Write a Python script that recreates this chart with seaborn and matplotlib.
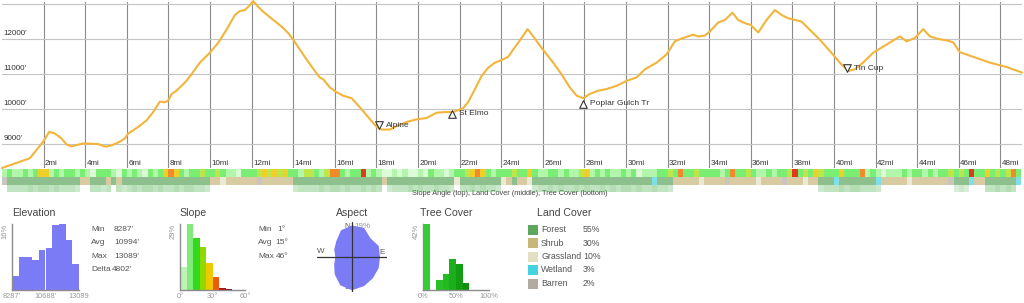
import numpy as np
import pandas as pd
import matplotlib
matplotlib.use("Agg")
import matplotlib.pyplot as plt
import seaborn as sns

# ---------------- data ----------------
dist_mi = [0.0, 1.34, 1.98, 2.27, 2.54, 2.86, 3.10, 3.34, 3.90, 4.62, 4.99, 5.27, 5.67, 5.91,
           6.07, 6.55, 6.95, 7.27, 7.59, 7.83, 7.99, 8.15, 8.39, 8.63, 8.87, 9.11, 9.51, 9.99,
           10.39, 10.79, 11.20, 11.44, 11.68, 11.92, 12.08, 12.24, 12.56, 13.04, 13.44, 13.76,
           14.00, 14.32, 14.64, 15.04, 15.28, 15.44, 15.76, 16.09, 16.40, 16.81, 17.20, 17.60,
           18.01, 18.25, 18.65, 18.89, 19.45, 19.93, 20.41, 20.89, 21.29, 21.69, 22.17, 22.41,
           22.74, 23.06, 23.38, 23.70, 24.02, 24.34, 24.58, 24.98, 25.27, 25.54, 25.94, 26.50,
           26.90, 27.30, 27.63, 27.94, 28.26, 28.66, 29.07, 29.55, 30.03, 30.51, 30.91, 31.47,
           31.95, 32.35, 32.70, 33.23, 33.47, 33.79, 34.03, 34.43, 34.76, 35.12, 35.39, 35.72,
           35.99, 36.36, 36.76, 37.16, 37.48, 37.80, 38.12, 38.44, 38.76, 39.32, 39.88, 40.28,
           40.68, 41.00, 41.40, 41.88, 42.53, 43.17, 43.49, 43.89, 44.29, 44.61, 45.01, 45.41,
           45.73, 46.05, 46.69, 47.50, 48.30, 49.04]
elev_ft = [8300, 8580, 9054, 9337, 9289, 9147, 8977, 8920, 9005, 8986, 8912, 8950, 9054, 9150,
           9289, 9479, 9667, 9904, 10204, 10185, 10232, 10422, 10516, 10657, 10799, 10989, 11320, 11603,
           11887, 12263, 12688, 12802, 12830, 12972, 13089, 12970, 12782, 12547, 12357, 12170,
           11980, 11697, 11414, 11082, 10895, 10847, 10612, 10470, 10374, 10300, 10045, 9762,
           9479, 9402, 9402, 9479, 9620, 9694, 9734, 9884, 9904, 9904, 10017, 10187,
           10564, 10940, 11178, 11320, 11394, 11490, 11697, 12028, 12283, 12074, 11745, 11320,
           10989, 10612, 10374, 10300, 10422, 10516, 10564, 10657, 10799, 10895, 11130, 11320,
           11555, 11932, 12020, 12122, 12074, 12094, 12215, 12471, 12547, 12754, 12547, 12452,
           12405, 12187, 12547, 12830, 12688, 12594, 12547, 12499, 12311, 11980, 11603, 11320,
           11082, 11130, 11320, 11603, 11839, 12074, 11932, 12028, 12283, 12074, 12000, 11961,
           11904, 11620, 11490, 11320, 11196, 11037]

waypoint_names = ["Alpine", "St Elmo", "Poplar Gulch Tr", "Tin Cup"]
waypoint_mi = [18.13, 21.64, 27.94, 40.65]
waypoint_ft = [9520, 9850, 10140, 11160]
waypoint_marker = ["v", "^", "^", "v"]

elev_ticks = [9000, 10000, 11000, 12000, 13000]
elev_tick_labels = ["9000'", "10000'", "11000'", "12000'", "13000'"]
dist_ticks = list(range(2, 49, 2))
dist_tick_labels = [f"{d}mi" for d in dist_ticks]

strip_step_mi = 0.25
slope_classes = ("1211 2124 4121 2212 1022 2102 1210 2124 5421 2232 2321 1022 2343 4342 2133 "
                 "2135 5212 2612 1001 0100 1021 1012 2345 4212 2232 2421 1221 2113 4121 2112 "
                 "1201 1122 3252 2322 2212 5223 2112 1223 6232 4322 2422 2512 1011 1212 2121 "
                 "2232 3262 2423 2352")
landcover_codes = ("BFFF FFFF FFFF FFFS SFFF SFSF FFFF FFFF FFFF FFFF SSGS SSSS SBSS SSSS FFFF "
                   "FFFF FFFF FFFF FSFF FFFF FFFF FFFG FFFF FFFF GSFS SGFF FFFF FFFF FFFF FFFF "
                   "FFFF FWFF FSSS SSGS SSSB SSSS SGSS SSBS SSGS SFFF WFFF FFFF WSSS SSGS SSSS "
                   "SSBF FFWS SFFF FFFW")
treecover_codes = ("0555 5656 6565 5540 0554 5054 5656 6565 5656 6554 0000 0000 0000 0000 4555 "
                   "5656 6565 5656 5045 5565 6556 5540 5565 6554 0000 0045 5656 5565 6556 5656 "
                   "6565 5655 4000 0000 0000 0000 0000 0000 0000 0455 5656 6555 4000 0000 0000 "
                   "0003 4300 0556 5650")

elev_hist_pct = [3.3, 8.1, 8.1, 7.2, 9.8, 10.3, 15.8, 16.0, 12.2, 6.4]
elev_range = [8287, 13089]
elev_axis_labels = ["8287'", "10688'", "13089"]
elev_stats_labels = ["Min", "Avg", "Max", "Delta"]
elev_stats_values = ["8287'", "10994'", "13089'", "4802'"]

slope_hist_pct = [10.2, 29.0, 22.8, 19.1, 11.9, 5.5, 1.0, 0.3]
slope_bin_deg = 6
slope_axis_labels = ["0°", "30°", "60°"]
slope_stats_labels = ["Min", "Avg", "Max"]
slope_stats_values = ["1°", "15°", "46°"]

aspect_pct = [18, 18, 15, 16.5, 16, 16.5, 17, 18, 19, 17.5, 14, 11, 9.5, 11, 12.7, 16.5]

tree_hist_pct = [42, 0, 6.3, 10, 19.5, 16.8, 4.6, 0.3, 0, 0]
tree_axis_labels = ["0%", "50%", "100%"]

land_names = ["Forest", "Shrub", "Grassland", "Wetland", "Barren"]
land_pct = [55, 30, 10, 3, 2]

# ---------------- style ----------------
sns.set_theme(style="white")
plt.rcParams["font.family"] = ["Liberation Sans", "DejaVu Sans"]

LINE_C = "#f2b53c"
BLUE = "#7b7bf6"
TXT = "#555555"
slope_colors = {"0": "#dcfcd8", "1": "#b2f6ab", "2": "#7aee72", "3": "#bde64a",
                "4": "#efd02a", "5": "#f08a2a", "6": "#dc3c1e"}
land_colors = {"F": "#5ea65e", "S": "#c9b679", "G": "#e1e0c2", "W": "#45d3e3", "B": "#b3aba3"}
slope_bar_colors = ["#bdf3b5", "#7fec79", "#33d91b", "#8fd800", "#efc800", "#ee5a0a", "#b40f0f", "#8a0a2a"]
tree_bar_colors = ["#2fd02f", "#2bc82b", "#27c227", "#22bb22", "#1cae1c", "#139d13", "#0d8f0d",
                   "#0a820a", "#087508", "#066806"]

W, H = 1024, 303
fig = plt.figure(figsize=(W / 100, H / 100), dpi=100)


def px_axes(left, top, right, bottom, **kw):
    return fig.add_axes([left / W, 1 - bottom / H, (right - left) / W, (bottom - top) / H], **kw)


# overlay for text layout (pixel coordinates)
ov = px_axes(0, 0, W, H)
ov.set_xlim(0, W)
ov.set_ylim(H, 0)
ov.axis("off")

# ---------------- main profile ----------------
XMAX = 49.04
ax = px_axes(2, 2, 1022, 168)
ax.set_facecolor("none")
df = pd.DataFrame({"mi": dist_mi, "ft": elev_ft})
sns.lineplot(data=df, x="mi", y="ft", ax=ax, color=LINE_C, linewidth=1.5, clip_on=False, zorder=3)
ax.set_xlim(0, XMAX)
ax.set_ylim(8300, 13060)
ax.set_xticks(dist_ticks)
ax.set_yticks(elev_ticks)
ax.tick_params(length=0, labelbottom=False, labelleft=False)
ax.set_xlabel("")
ax.set_ylabel("")
for s in ax.spines.values():
    s.set_visible(False)
ax.xaxis.grid(True, color="#8a8a8a", linewidth=0.8)
ax.yaxis.grid(True, color="#c4c4c4", linewidth=0.8)
for v, lab in zip(elev_ticks[:-1], elev_tick_labels[:-1]):
    ax.annotate(lab, xy=(0, v), xycoords=ax.get_yaxis_transform(), xytext=(1, 1.2),
                textcoords="offset points", ha="left", va="bottom", fontsize=5.8, color="#333333")
for d, lab in zip(dist_ticks, dist_tick_labels):
    ax.annotate(lab, xy=(d, 0), xycoords=ax.get_xaxis_transform(), xytext=(1, 1),
                textcoords="offset points", ha="left", va="bottom", fontsize=5.8, color="#333333")
for name, m, f, mk in zip(waypoint_names, waypoint_mi, waypoint_ft, waypoint_marker):
    ax.scatter([m], [f], marker=mk, s=30, facecolors="white", edgecolors="#333333",
               linewidths=0.8, zorder=4)
    ax.annotate(name, xy=(m, f), xytext=(5, 0), textcoords="offset points", ha="left",
                va="center", fontsize=6, color="#333333", zorder=5)

# ---------------- strips ----------------
def draw_strip(top, bottom, codes, color_fn, alpha_fn):
    sa = px_axes(2, top, 1022, bottom)
    codes = codes.replace(" ", "")
    lefts = np.arange(len(codes)) * strip_step_mi
    cols = [color_fn(c) for c in codes]
    alphas = [alpha_fn(c) for c in codes]
    bars = sa.bar(lefts, 1, width=strip_step_mi, align="edge", color=cols, linewidth=0)
    for b, a in zip(bars, alphas):
        b.set_alpha(a)
    sa.set_xlim(0, XMAX)
    sa.set_ylim(0, 1)
    sa.axis("off")
    return sa


draw_strip(169, 177, slope_classes, lambda c: slope_colors[c], lambda c: 1.0)
draw_strip(177, 185, landcover_codes, lambda c: land_colors[c], lambda c: 0.7)
draw_strip(185, 192, treecover_codes, lambda c: "#5cb85c", lambda c: int(c) / 13.0)
ov.text(510, 193.5, "Slope Angle (top), Land Cover (middle), Tree Cover (bottom)",
        ha="center", va="center", fontsize=5.3, color="#444444")


def style_hist(h, xlo, xhi, ymax, ylab, xlabels):
    h.set_xlim(xlo, xhi)
    h.set_ylim(0, ymax)
    h.set_xticks([])
    h.set_yticks([])
    h.set_xlabel("")
    h.set_ylabel("")
    h.set_facecolor("none")
    for k in ["top", "right"]:
        h.spines[k].set_visible(False)
    for k in ["left", "bottom"]:
        h.spines[k].set_color("#8c8c8c")
        h.spines[k].set_linewidth(1.0)
    h.text(-0.05, 1.0, ylab, rotation=90, transform=h.transAxes, ha="right", va="top",
           fontsize=5.5, color="#999999")
    for xv, lab in zip([xlo, (xlo + xhi) / 2, xhi], xlabels):
        h.text(xv, -0.05, lab, transform=h.get_xaxis_transform(), ha="center", va="top",
               fontsize=5.3, color="#999999")


def weighted_hist(h, lo, hi, pct, colors):
    n = len(pct)
    width = (hi - lo) / n
    centers = [lo + width * (i + 0.5) for i in range(n)]
    d = pd.DataFrame({"x": centers, "w": pct})
    sns.histplot(data=d, x="x", weights="w", bins=n, binrange=(lo, hi), ax=h, alpha=1,
                 linewidth=0)
    for p, c in zip(h.patches, colors):
        p.set_facecolor(c)
        p.set_edgecolor(c)


# ---------------- elevation histogram ----------------
ov.text(12, 213, "Elevation", ha="left", va="center", fontsize=7.6, color="#444444")
eh = px_axes(12, 224, 79, 290)
weighted_hist(eh, elev_range[0], elev_range[1], elev_hist_pct, [BLUE] * len(elev_hist_pct))
style_hist(eh, elev_range[0], elev_range[1], 16, "16%", elev_axis_labels)
for i, (lab, val) in enumerate(zip(elev_stats_labels, elev_stats_values)):
    y = 229.5 + i * 13.3
    ov.text(91, y, lab, ha="left", va="center", fontsize=6, color=TXT)
    ov.text(114 if i < 3 else 111.5, y, val, ha="left", va="center", fontsize=6, color=TXT)

# ---------------- slope histogram ----------------
ov.text(179, 213, "Slope", ha="left", va="center", fontsize=7.6, color="#444444")
sh = px_axes(180, 224, 245, 290)
weighted_hist(sh, 0, len(slope_hist_pct) * slope_bin_deg, slope_hist_pct, slope_bar_colors)
style_hist(sh, 0, 60, 29, "29%", slope_axis_labels)
for i, (lab, val) in enumerate(zip(slope_stats_labels, slope_stats_values)):
    y = 229.5 + i * 13.3
    ov.text(258, y, lab, ha="left", va="center", fontsize=6, color=TXT)
    ov.text(277 if i == 0 else 275.5, y, val, ha="left", va="center", fontsize=6, color=TXT)

# ---------------- aspect rose ----------------
ov.text(352, 213, "Aspect", ha="center", va="center", fontsize=7.6, color="#444444")
ra = px_axes(317, 222, 387, 292, projection="polar")
theta = np.deg2rad(np.arange(len(aspect_pct)) * 360 / len(aspect_pct))
ra.set_theta_zero_location("N")
ra.set_theta_direction(-1)
ra.fill(np.append(theta, theta[0]), np.append(aspect_pct, aspect_pct[0]), color=BLUE,
        linewidth=0, zorder=2)
for t in [0, np.pi / 2, np.pi, 3 * np.pi / 2]:
    ra.plot([t, t], [0, 20], color="#333333", linewidth=0.9, zorder=3)
ra.set_ylim(0, 20)
ra.grid(False)
ra.set_xticks([])
ra.set_yticks([])
ra.spines["polar"].set_visible(False)
ra.set_facecolor("none")
ov.text(350, 226.5, "N", ha="right", va="center", fontsize=5.8, color=TXT)
ov.text(354, 226.5, "19%", ha="left", va="center", fontsize=5.8, color="#999999")
ov.text(321, 251.5, "W", ha="center", va="center", fontsize=5.8, color=TXT)
ov.text(382, 253, "E", ha="center", va="center", fontsize=5.8, color=TXT)
ov.text(347.5, 287.5, "S", ha="center", va="center", fontsize=5.8, color=TXT)

# ---------------- tree cover histogram ----------------
ov.text(420, 213, "Tree Cover", ha="left", va="center", fontsize=7.6, color="#444444")
th = px_axes(423, 224, 489, 290)
weighted_hist(th, 0, 100, tree_hist_pct, tree_bar_colors)
style_hist(th, 0, 100, 42, "42%", tree_axis_labels)

# ---------------- land cover legend ----------------
ov.text(564, 213, "Land Cover", ha="center", va="center", fontsize=7.6, color="#444444")
for i, (nm, pc) in enumerate(zip(land_names, land_pct)):
    y = 229.5 + i * 13.5
    ov.scatter([532.5], [y], marker="s", s=42, color=land_colors[nm[0]], linewidths=0)
    ov.text(541, y, nm, ha="left", va="center", fontsize=6.3, color=TXT)
    ov.text(583, y, f"{pc}%", ha="left", va="center", fontsize=6.3, color=TXT)

fig.savefig("out.png", dpi=100)
